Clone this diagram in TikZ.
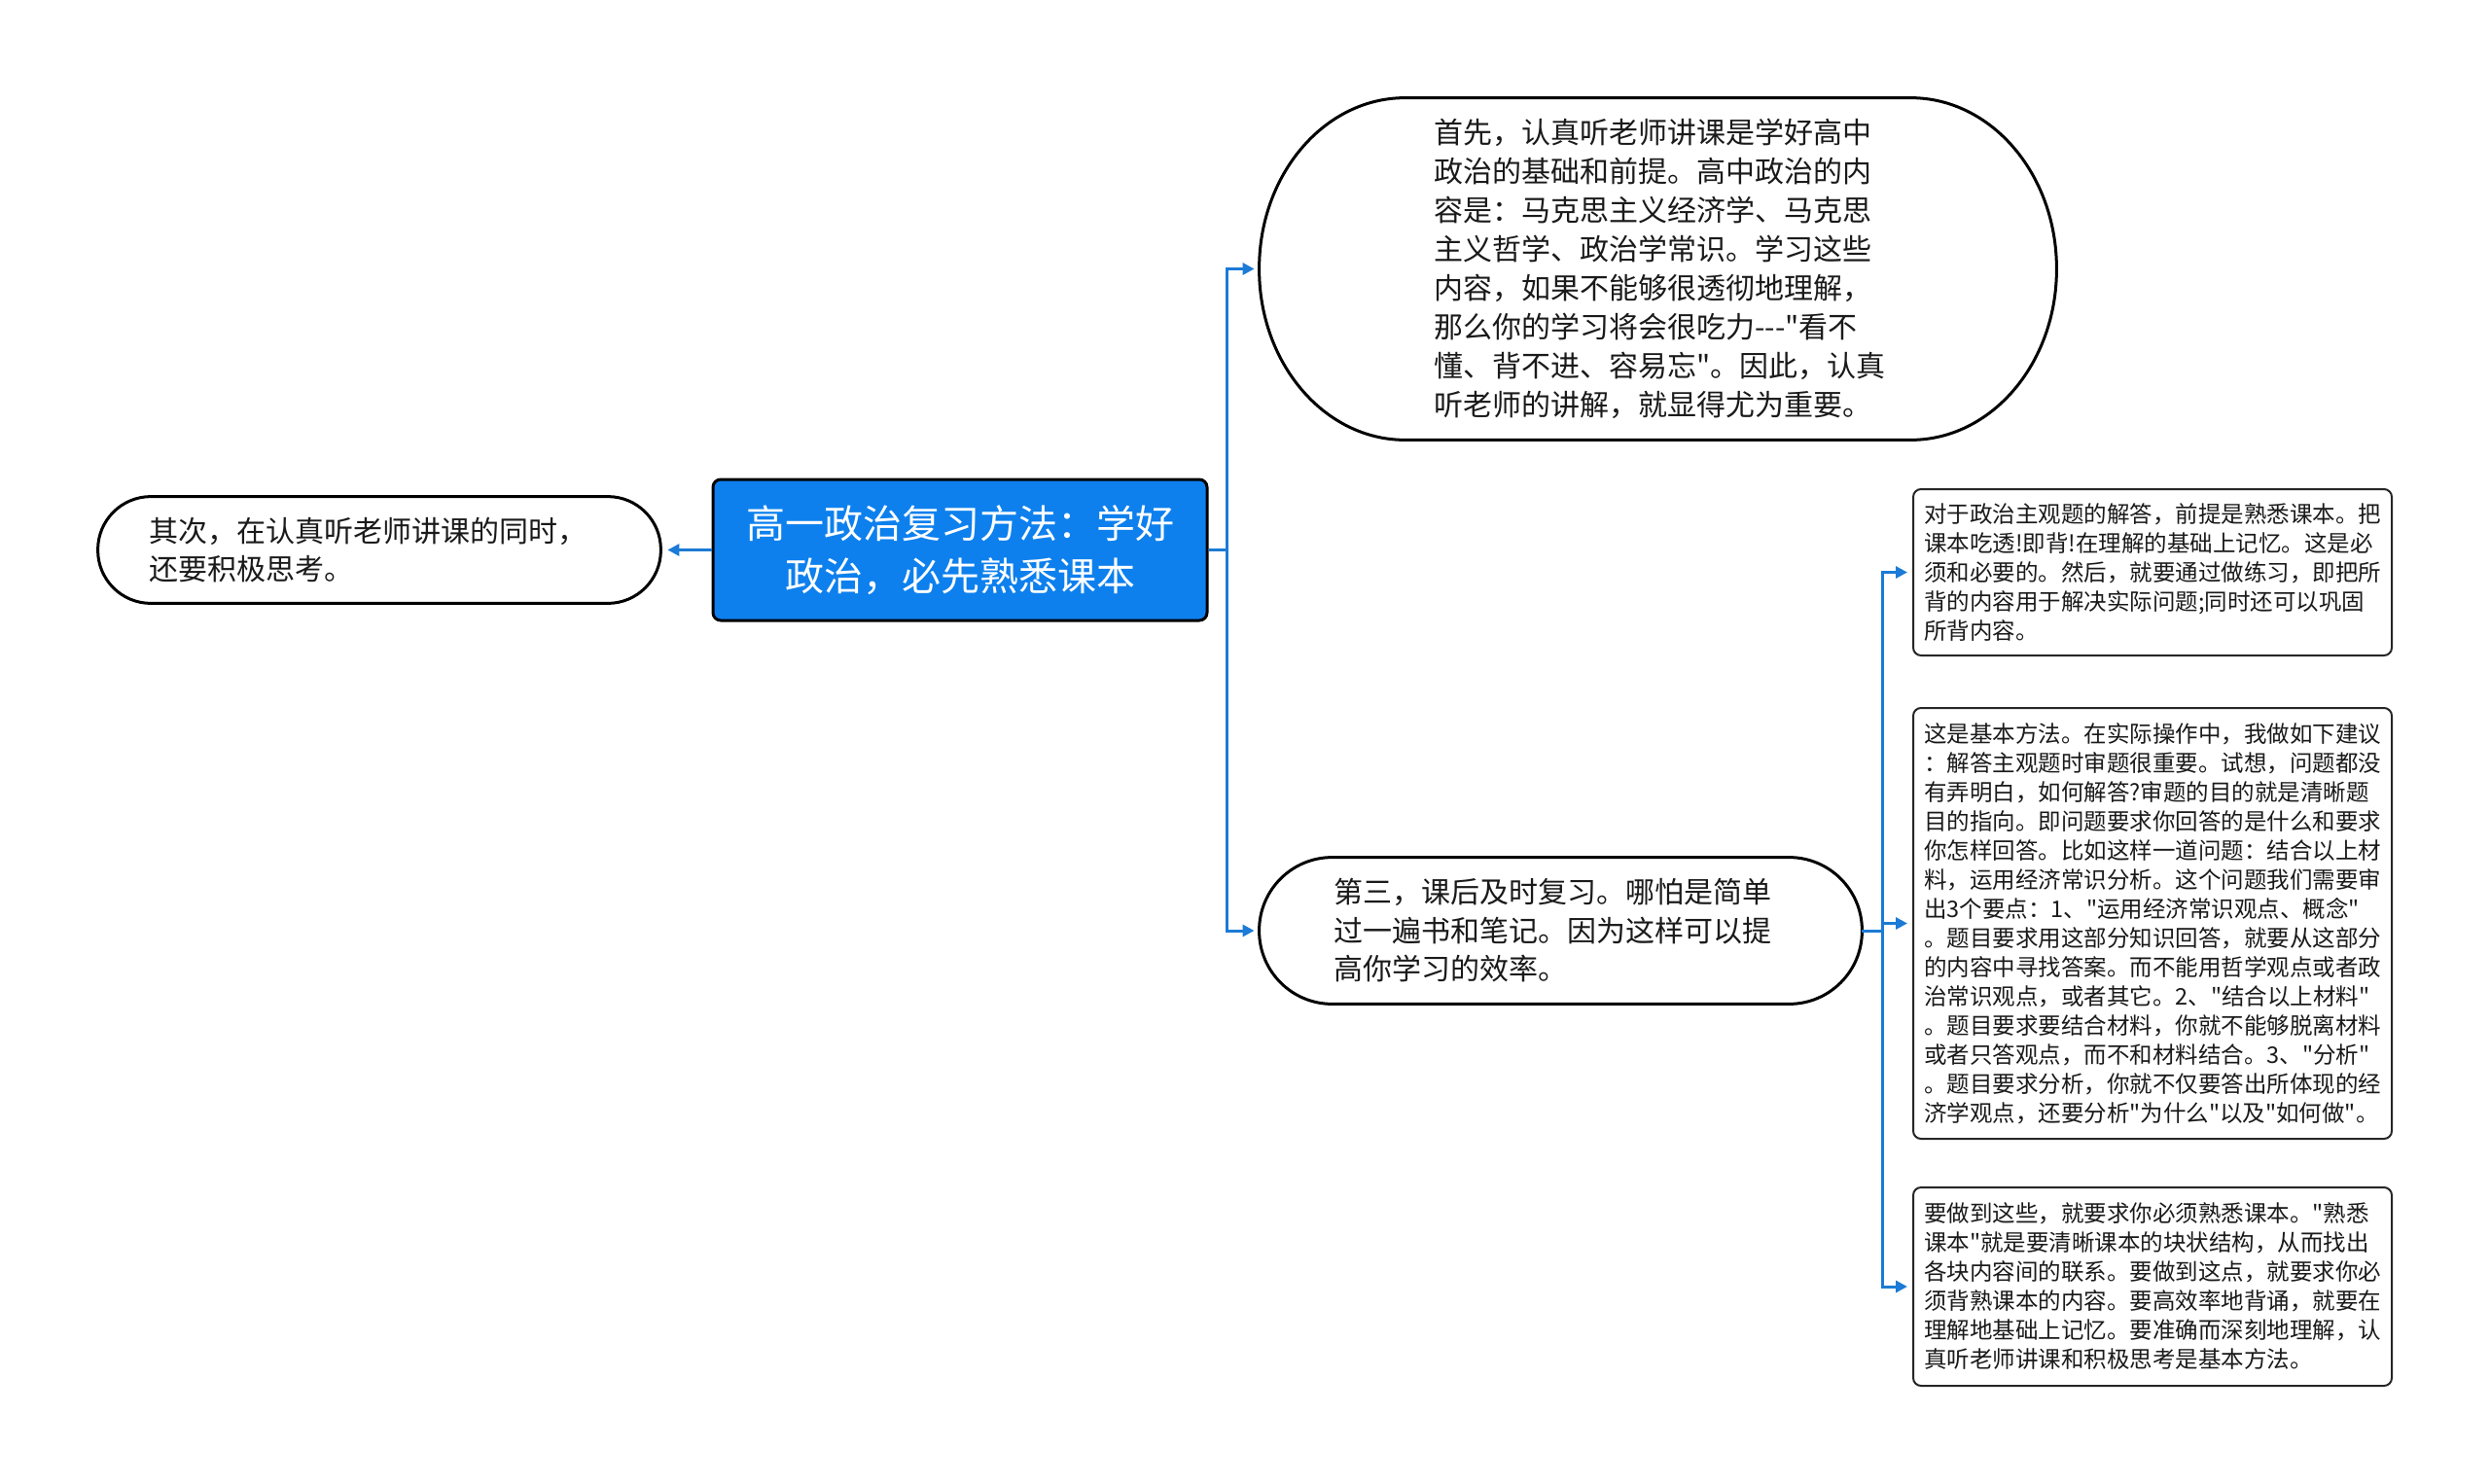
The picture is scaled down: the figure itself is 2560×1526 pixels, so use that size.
\documentclass[tikz,border=0pt]{standalone}
\usepackage{fontspec}
\setmainfont{Noto Sans CJK SC}[Ligatures=TeXOff]
\usetikzlibrary{arrows.meta,calc}
\definecolor{mainblue}{HTML}{0D80EE}
\definecolor{linkblue}{HTML}{1B7BD6}
\definecolor{txt}{HTML}{1A1A1A}
\newcommand\pilloutline[3]{%
  \draw[pillline] ($(#1.north east)+(-#2,0pt)$)
    arc[start angle=90,end angle=0,x radius=#2,y radius=#3]
    -- ($(#1.south east)+(0pt,#3)$)
    arc[start angle=0,end angle=-90,x radius=#2,y radius=#3]
    -- ($(#1.south west)+(#2,0pt)$)
    arc[start angle=-90,end angle=-180,x radius=#2,y radius=#3]
    -- ($(#1.north west)+(0pt,-#3)$)
    arc[start angle=180,end angle=90,x radius=#2,y radius=#3]
    -- cycle;}
\tikzset{
  pillline/.style={draw=black,line width=1.5pt,fill=white},
  pilltext/.style={inner sep=0pt,align=left,text=txt,font=\fontsize{15pt}{19.75pt}\selectfont},
  rootbox/.style={draw=black,line width=1.5pt,fill=mainblue,rounded corners=4pt,inner sep=0pt,
    align=center,text=white,font=\fontsize{20pt}{27pt}\selectfont},
  leafbox/.style={draw=black!85,line width=1pt,fill=white,rounded corners=4pt,inner sep=0pt,
    align=left,text=txt,minimum width=246pt,font=\fontsize{11.75pt}{15pt}\selectfont},
  link/.style={draw=linkblue,line width=1.5pt,-{Triangle[length=6pt,width=6pt]},shorten >=2.5pt}
}
\begin{document}
\begin{tikzpicture}[x=0.5pt,y=-0.5pt]
\useasboundingbox (0,0) rectangle (2560,1526);
% root
\node[rootbox,minimum width=254pt,minimum height=72.5pt] (c) at (987,565.5)
  {高一政治复习方法：学好\\政治，必先熟悉课本};
% top pill
\node[pilltext,minimum width=409.5pt,minimum height=175.5pt] (top) at (1704.5,276.5) {};
\pilloutline{top}{75pt}{87.75pt}
\node[pilltext,font=\fontsize{15pt}{20pt}\selectfont] (toptext) at ($(top.center)+(2,0)$)
  {首先，认真听老师讲课是学好高中\\政治的基础和前提。高中政治的内\\容是：马克思主义经济学、马克思\\主义哲学、政治学常识。学习这些\\内容，如果不能够很透彻地理解，\\那么你的学习将会很吃力---"看不\\懂、背不进、容易忘"。因此，认真\\听老师的讲解，就显得尤为重要。};
% left pill
\node[pilltext,minimum width=289pt,minimum height=54.5pt] (l) at (390,565.5) {};
\pilloutline{l}{27.25pt}{27.25pt}
\node[pilltext] (ltext) at ($(l.center)+(-12,0)$)
  {其次，在认真听老师讲课的同时，\\还要积极思考。};
% bottom pill
\node[pilltext,minimum width=309.5pt,minimum height=75pt] (b) at (1604.5,957) {};
\pilloutline{b}{37.5pt}{37.5pt}
\node[pilltext] (btext) at ($(b.center)+(-8,0)$)
  {第三，课后及时复习。哪怕是简单\\过一遍书和笔记。因为这样可以提\\高你学习的效率。};
% right leaves
\node[leafbox,minimum height=85.5pt] (r1) at (2213,588.5)
  {对于政治主观题的解答，前提是熟悉课本。把\\课本吃透!即背!在理解的基础上记忆。这是必\\须和必要的。然后，就要通过做练习，即把所\\背的内容用于解决实际问题;同时还可以巩固\\所背内容。};
\node[leafbox,minimum height=221.5pt] (r2) at (2213,949.5)
  {这是基本方法。在实际操作中，我做如下建议\\：解答主观题时审题很重要。试想，问题都没\\有弄明白，如何解答?审题的目的就是清晰题\\目的指向。即问题要求你回答的是什么和要求\\你怎样回答。比如这样一道问题：结合以上材\\料，运用经济常识分析。这个问题我们需要审\\出3个要点：1、"运用经济常识观点、概念"\\。题目要求用这部分知识回答，就要从这部分\\的内容中寻找答案。而不能用哲学观点或者政\\治常识观点，或者其它。2、"结合以上材料"\\。题目要求要结合材料，你就不能够脱离材料\\或者只答观点，而不和材料结合。3、"分析"\\。题目要求分析，你就不仅要答出所体现的经\\济学观点，还要分析"为什么"以及"如何做"。};
\node[leafbox,minimum height=102pt] (r3) at (2213,1323)
  {要做到这些，就要求你必须熟悉课本。"熟悉\\课本"就是要清晰课本的块状结构，从而找出\\各块内容间的联系。要做到这点，就要求你必\\须背熟课本的内容。要高效率地背诵，就要在\\理解地基础上记忆。要准确而深刻地理解，认\\真听老师讲课和积极思考是基本方法。};
% connectors
\draw[link] (c.east) -- ++(19,0) |- (top.west);
\draw[link] (c.east) -- ++(19,0) |- (b.west);
\draw[link,shorten >=3.5pt] (c.west) -- (l.east);
\draw[link] (b.east) -- ++(21,0) |- (r1.west);
\draw[link] (b.east) -- ++(21,0) |- (r2.west);
\draw[link] (b.east) -- ++(21,0) |- (r3.west);
\end{tikzpicture}
\end{document}
